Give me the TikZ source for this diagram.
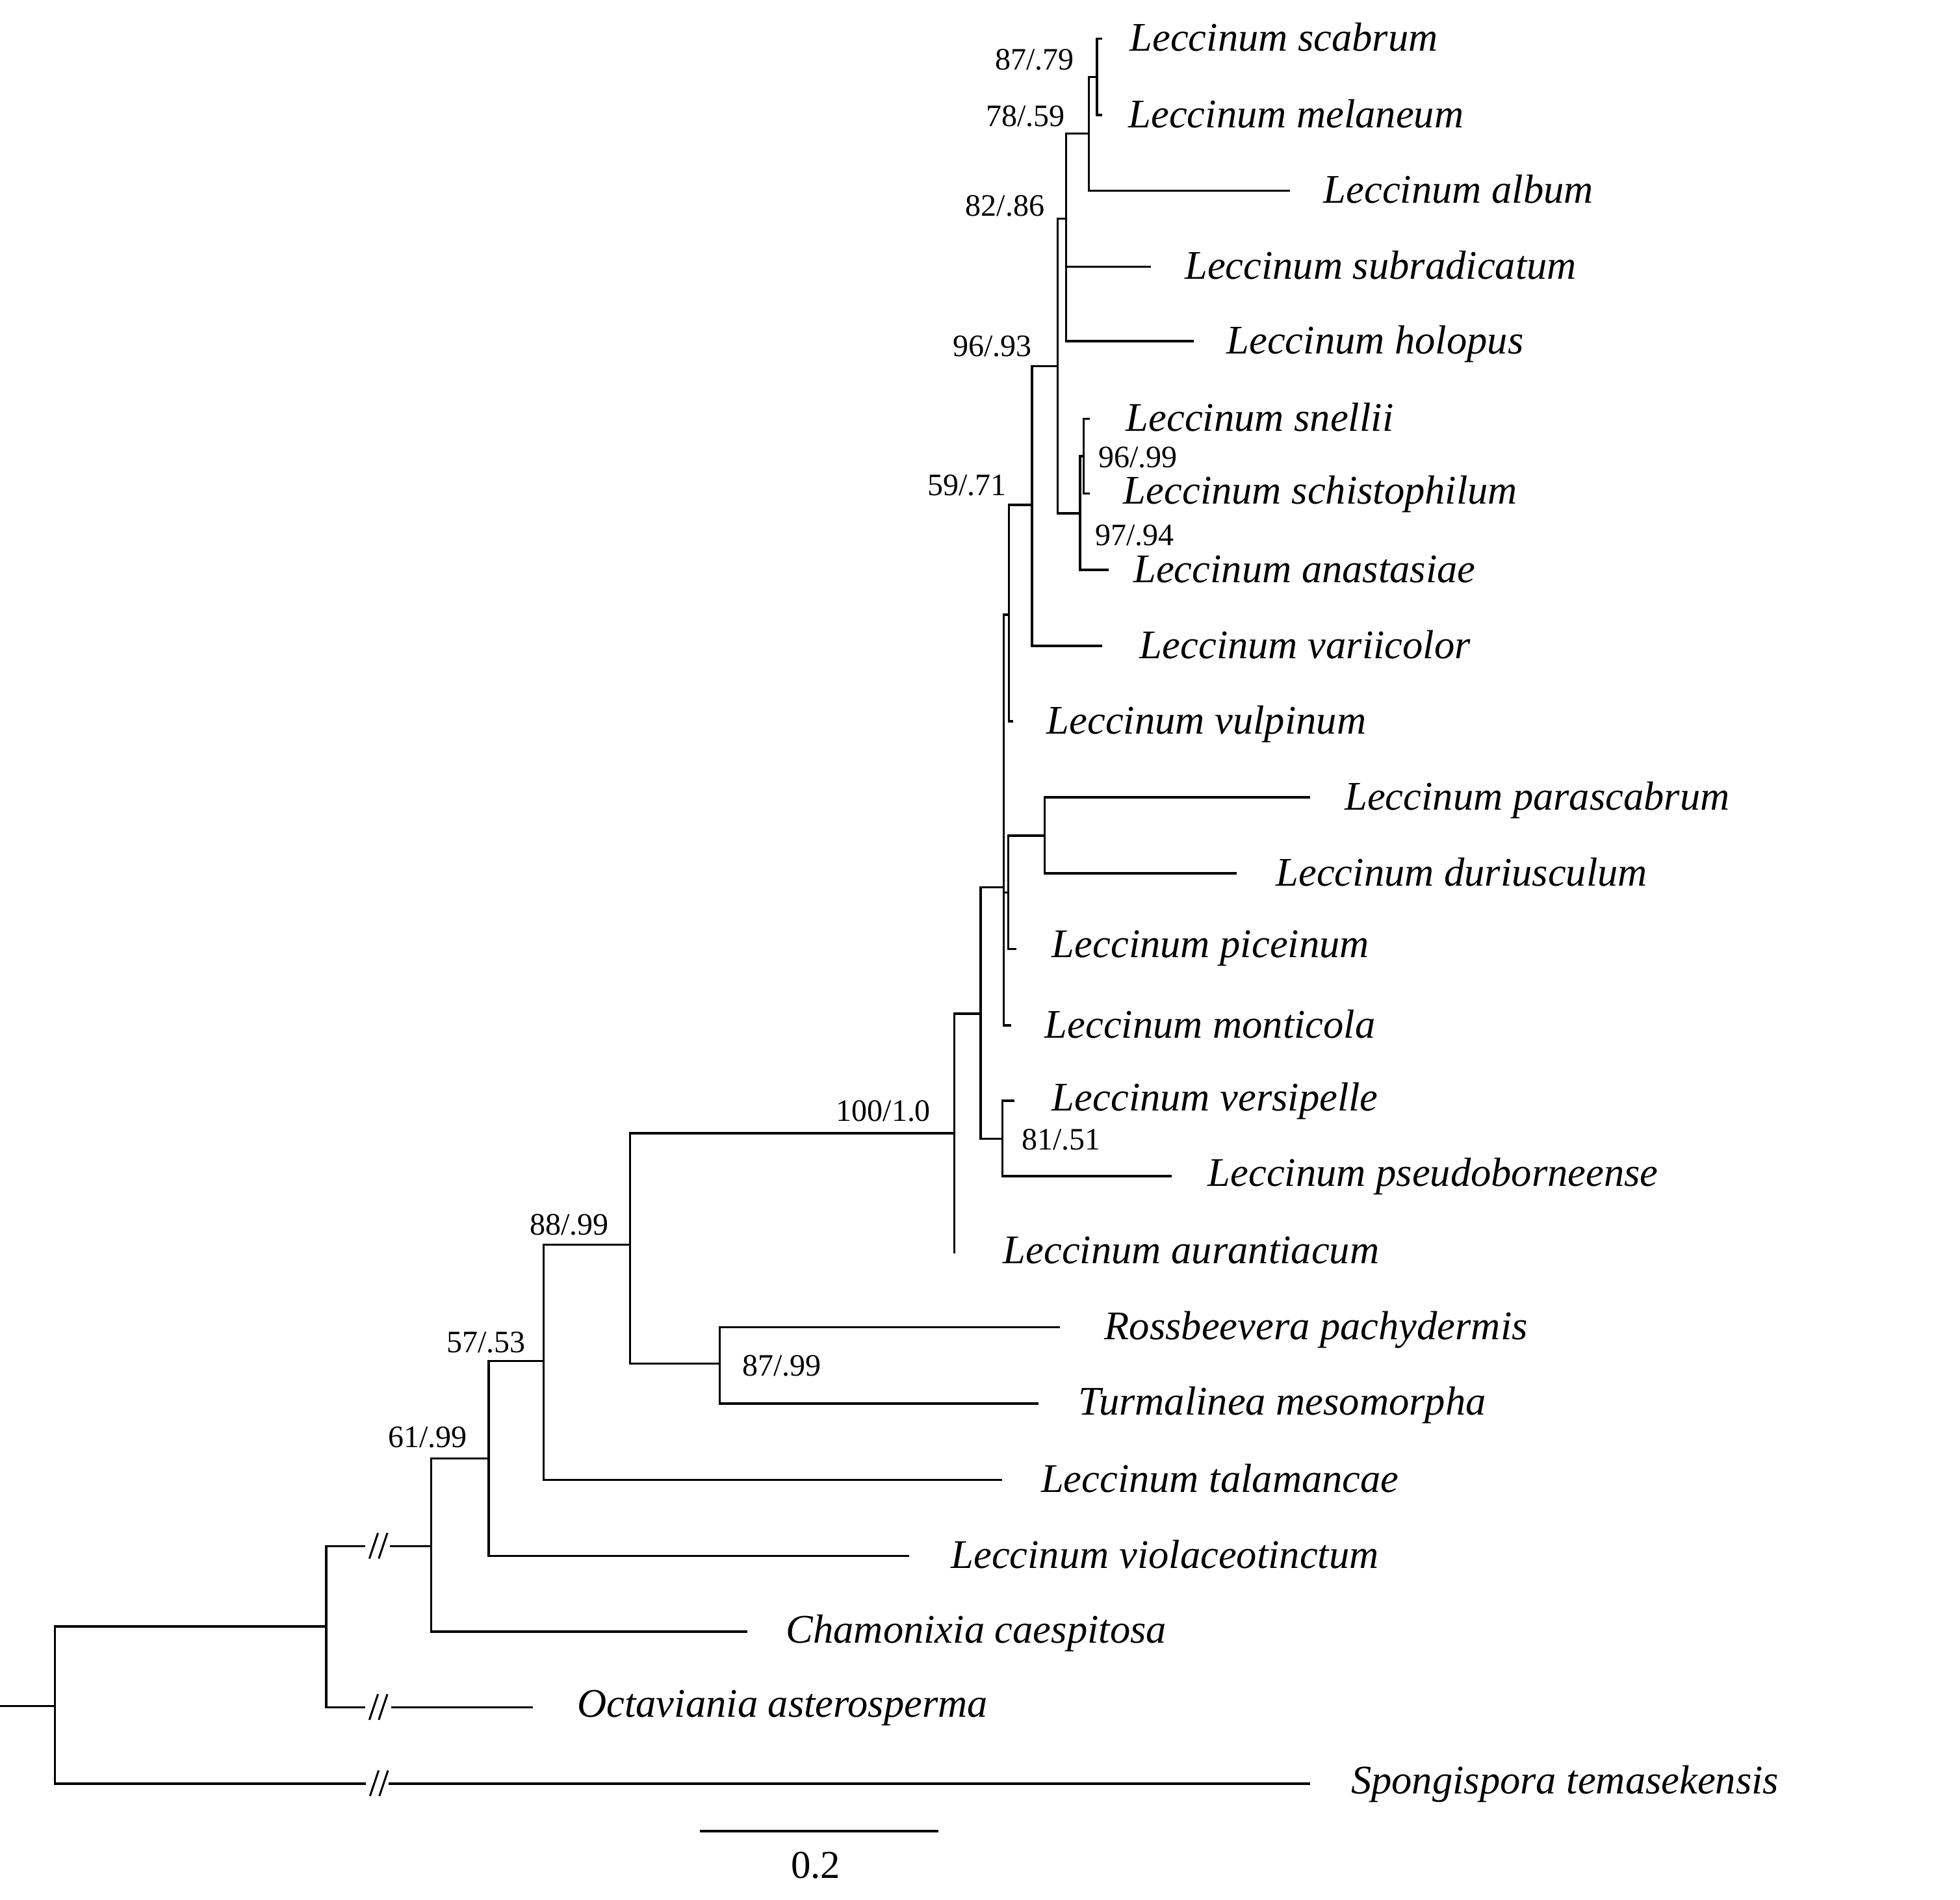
\documentclass[tikz,border=0pt]{standalone}
\usepackage{fontspec}
\setmainfont{Liberation Serif}
\usetikzlibrary{calc}
\begin{document}
\begin{tikzpicture}[x=0.02cm, y=-0.02cm, line width=1pt, line cap=rect,
  taxon/.style={anchor=base west, inner sep=0pt, yshift=-0.2cm, font=\fontsize{18.5}{21}\selectfont\itshape},
  supp/.style={anchor=center, inner sep=0pt, font=\fontsize{14.2}{16}\selectfont},
  scalelab/.style={anchor=base, inner sep=0pt, font=\fontsize{18}{20}\selectfont},
  brk/.style={line width=0.9pt, line cap=butt}]
\useasboundingbox (0,0) rectangle (1568,1520);

% ---------- internal nodes (x of vertical, y where they join parent)
\coordinate (r0)    at (1,1365);
\coordinate (nRoot) at (44,1365);
\coordinate (nA)    at (261,1301.3);
\coordinate (n6199) at (345,1237);
\coordinate (n5753) at (391,1167);
\coordinate (n8899) at (434.9,1089);
\coordinate (nB)    at (504,996);
\coordinate (n8799) at (575.7,1091);
\coordinate (n100)  at (763.3,906.7);
\coordinate (nS)    at (784.6,811);
\coordinate (nP)    at (803,710);
\coordinate (nQ)    at (806.5,714);
\coordinate (nPD)   at (835.8,668.6);
\coordinate (nR)    at (807,491.8);
\coordinate (n5971) at (825.5,404);
\coordinate (n9693) at (846,293);
\coordinate (n8286) at (853,175);
\coordinate (n7859) at (871,107);
\coordinate (n8779) at (877.5,61.5);
\coordinate (n9794) at (864,410.7);
\coordinate (n9699) at (867,365);
\coordinate (n8151) at (801.8,911);

% ---------- tips
\coordinate (tScab) at (881,31);
\coordinate (tMel)  at (881,92);
\coordinate (tAlb)  at (1031,152.5);
\coordinate (tSub)  at (920,213.5);
\coordinate (tHol)  at (954,273);
\coordinate (tSne)  at (871,335);
\coordinate (tSch)  at (871,395);
\coordinate (tAna)  at (886,456);
\coordinate (tVar)  at (881,516.7);
\coordinate (tVul)  at (809.5,577);
\coordinate (tPar)  at (1047,638);
\coordinate (tDur)  at (988.6,698.7);
\coordinate (tPic)  at (812,759.4);
\coordinate (tMon)  at (808,820.4);
\coordinate (tVer)  at (810.5,880.6);
\coordinate (tPse)  at (936.6,941);
\coordinate (tAur)  at (763.3,1002);
\coordinate (tRos)  at (847,1062);
\coordinate (tTur)  at (830,1123);
\coordinate (tTal)  at (800.8,1184);
\coordinate (tVio)  at (726.4,1245);
\coordinate (tCha)  at (596.8,1305.5);
\coordinate (tOct)  at (425.4,1366);
\coordinate (tSpo)  at (1047,1427);

% ---------- break points
\coordinate (bU1) at (291.5,1237);  \coordinate (bU2) at (313,1237);
\coordinate (bO1) at (291.5,1366);  \coordinate (bO2) at (314,1366);
\coordinate (bS1) at (292,1427);    \coordinate (bS2) at (312,1427);

% ---------- branches
\draw (r0) -- (nRoot);
\draw (nRoot) |- (nA);
\draw (nRoot) |- (bS1);
\draw (bS2) -- (tSpo);
\draw (nA) |- (bU1);
\draw (bU2) -- (n6199);
\draw (nA) |- (bO1);
\draw (bO2) -- (tOct);
\draw (n6199) |- (n5753);
\draw (n6199) |- (tCha);
\draw (n5753) |- (n8899);
\draw (n5753) |- (tVio);
\draw (n8899) |- (nB);
\draw (n8899) |- (tTal);
\draw (nB) |- (n100);
\draw (nB) |- (n8799);
\draw (n8799) |- (tRos);
\draw (n8799) |- (tTur);
\draw (n100) |- (nS);
\draw (n100) |- (tAur);
\draw (nS) |- (nP);
\draw (nS) |- (n8151);
\draw (n8151) |- (tVer);
\draw (n8151) |- (tPse);
\draw (nP) |- (nR);
\draw (nP) |- (nQ);
\draw (nP) |- (tMon);
\draw (nQ) |- (nPD);
\draw (nQ) |- (tPic);
\draw (nPD) |- (tPar);
\draw (nPD) |- (tDur);
\draw (nR) |- (n5971);
\draw (nR) |- (tVul);
\draw (n5971) |- (n9693);
\draw (n5971) |- (tVar);
\draw (n9693) |- (n8286);
\draw (n9693) |- (n9794);
\draw (n8286) |- (n7859);
\draw (n8286) |- (tSub);
\draw (n8286) |- (tHol);
\draw (n7859) |- (n8779);
\draw (n7859) |- (tAlb);
\draw (n8779) |- (tScab);
\draw (n8779) |- (tMel);
\draw (n9794) |- (n9699);
\draw (n9794) |- (tAna);
\draw (n9699) |- (tSne);
\draw (n9699) |- (tSch);

% ---------- break marks //
\foreach \b in {bU1,bO1,bS1}{
  \draw[brk] ($(\b)+(4,10)$) -- ++(6.9,-20.5);
  \draw[brk] ($(\b)+(11.5,10)$) -- ++(6.9,-20.5);
}

% ---------- taxon labels
\node[taxon] (lScab) at (903,31)     {Leccinum scabrum};
\node[taxon] (lMel)  at (902,92)     {Leccinum melaneum};
\node[taxon] (lAlb)  at (1058,152.5) {Leccinum album};
\node[taxon] (lSub)  at (947,213.5)  {Leccinum subradicatum};
\node[taxon] (lHol)  at (980.5,273)  {Leccinum holopus};
\node[taxon] (lSne)  at (900,335)    {Leccinum snellii};
\node[taxon] (lSch)  at (898,393)    {Leccinum schistophilum};
\node[taxon] (lAna)  at (906,456)    {Leccinum anastasiae};
\node[taxon] (lVar)  at (911,516.7)  {Leccinum variicolor};
\node[taxon] (lVul)  at (836.6,577)  {Leccinum vulpinum};
\node[taxon] (lPar)  at (1075,638)   {Leccinum parascabrum};
\node[taxon] (lDur)  at (1020,698.7) {Leccinum duriusculum};
\node[taxon] (lPic)  at (840.8,756)  {Leccinum piceinum};
\node[taxon] (lMon)  at (835,820.4)  {Leccinum monticola};
\node[taxon] (lVer)  at (840.8,879)  {Leccinum versipelle};
\node[taxon] (lPse)  at (965.5,939)  {Leccinum pseudoborneense};
\node[taxon] (lAur)  at (801.8,1001) {Leccinum aurantiacum};
\node[taxon] (lRos)  at (882.8,1062) {Rossbeevera pachydermis};
\node[taxon] (lTur)  at (862,1122)   {Turmalinea mesomorpha};
\node[taxon] (lTal)  at (832,1184)   {Leccinum talamancae};
\node[taxon] (lVio)  at (760,1245)   {Leccinum violaceotinctum};
\node[taxon] (lCha)  at (628,1304.5) {Chamonixia caespitosa};
\node[taxon] (lOct)  at (461,1364)   {Octaviania asterosperma};
\node[taxon] (lSpo)  at (1080,1425)  {Spongispora temasekensis};

% ---------- support values
\node[supp] (s8779) at (827.7,47.7)  {87/.79};
\node[supp] (s7859) at (820.5,92.8)  {78/.59};
\node[supp] (s8286) at (804,165)     {82/.86};
\node[supp] (s9693) at (794,277)     {96/.93};
\node[supp] (s5971) at (773.5,388.5) {59/.71};
\node[supp] (s9699) at (910.3,366)   {96/.99};
\node[supp] (s9794) at (907.8,428.6) {97/.94};
\node[supp] (s100)  at (706.7,889)   {100/1.0};
\node[supp] (s8151) at (849,912)     {81/.51};
\node[supp] (s8899) at (455.5,980)   {88/.99};
\node[supp] (s5753) at (389,1074)    {57/.53};
\node[supp] (s6199) at (342,1150)    {61/.99};
\node[supp] (s8799) at (625.5,1093)  {87/.99};

% ---------- scale bar
\coordinate (sb1) at (561,1465);
\coordinate (sb2) at (750,1465);
\draw (sb1) -- (sb2);
\node[scalelab] (sbl) at (652.5,1502.8) {0.2};
\end{tikzpicture}
\end{document}
